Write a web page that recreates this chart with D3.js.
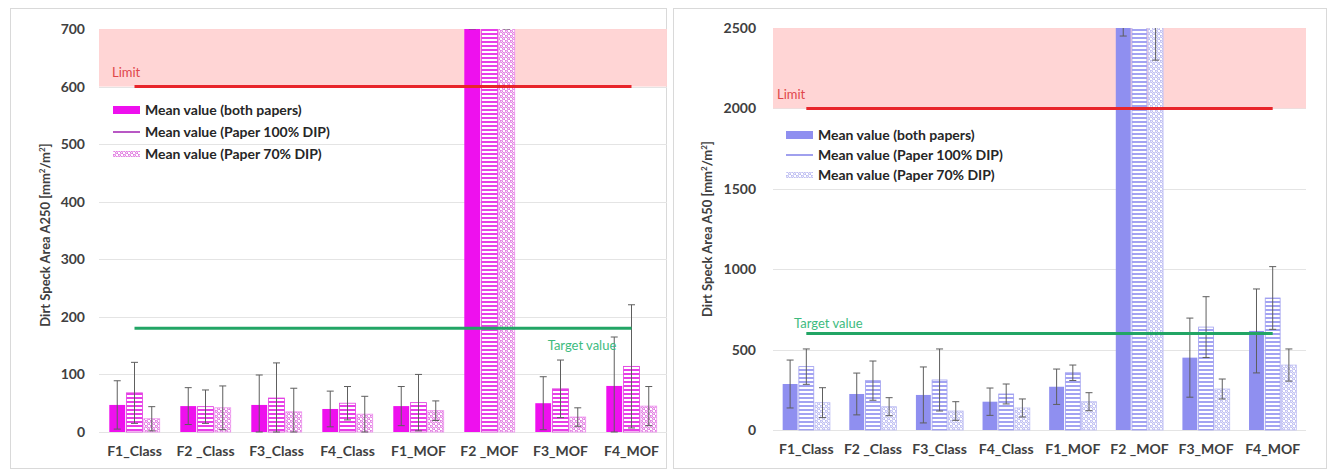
<!DOCTYPE html>
<html>
<head>
<meta charset="utf-8">
<script src="https://cdn.jsdelivr.net/npm/d3@7"></script>
<style>
  body { margin: 0; background: #fff; }
  text { font-family: Lato, "Open Sans", sans-serif; }
</style>
</head>
<body>
<div id="chart"></div>
<script>
(function() {
  'use strict'

  // Data //
  var categories = ["F1_Class", "F2 _Class", "F3_Class", "F4_Class", "F1_MOF", "F2 _MOF", "F3_MOF", "F4_MOF"]
  var seriesNames = ["Mean value (both papers)", "Mean value (Paper 100% DIP)", "Mean value (Paper 70% DIP)"]

  // A250 panel
  var a250Both = [47, 45, 47, 40, 45, 1000, 50, 80]
  var a250BothSd = [42, 32, 52, 31, 34, 300, 46, 85]
  var a250P100 = [68, 44, 59, 50, 51, 1050, 75, 114]
  var a250P100Sd = [53, 29, 61, 29, 49, 300, 50, 107]
  var a250P70 = [23, 42, 35, 31, 37, 1000, 26, 45]
  var a250P70Sd = [21, 38, 41, 31, 17, 300, 16, 34]
  var a250Ticks = [0, 100, 200, 300, 400, 500, 600, 700]
  var a250Limit = 600
  var a250Target = 180

  // A50 panel
  var a50Both = [286, 224, 218, 176, 269, 3300, 450, 616]
  var a50BothSd = [149, 130, 174, 85, 110, 850, 246, 261]
  var a50P100 = [394, 307, 311, 224, 356, 3600, 640, 821]
  var a50P100Sd = [110, 122, 193, 62, 48, 900, 189, 195]
  var a50P70 = [170, 145, 118, 137, 176, 2900, 255, 404]
  var a50P70Sd = [93, 56, 58, 56, 56, 600, 62, 100]
  var a50Ticks = [0, 500, 1000, 1500, 2000, 2500]
  var a50Limit = 2000
  var a50Target = 600

  // SVG Setup //
  var width = 1334, height = 473

  var svg = d3.select("#chart").append("svg")
    .attr("width", width)
    .attr("height", height)

  svg.append("rect").attr("width", width).attr("height", height).attr("fill", "#fff")

  var defs = svg.append("defs")

  // patterns for the two hatched series
  function makePatterns(id, color, dotColor) {
    var lines = defs.append("pattern")
      .attr("id", id + "-lines")
      .attr("patternUnits", "userSpaceOnUse")
      .attr("width", 4).attr("height", 4)
    lines.append("rect").attr("width", 4).attr("height", 4).attr("fill", "#fff")
    lines.append("rect").attr("y", 1).attr("width", 4).attr("height", 2).attr("fill", color)

    var dots = defs.append("pattern")
      .attr("id", id + "-dots")
      .attr("patternUnits", "userSpaceOnUse")
      .attr("width", 5).attr("height", 5)
    dots.append("rect").attr("width", 5).attr("height", 5).attr("fill", "#fff")
    dots.append("circle").attr("cx", 1.25).attr("cy", 1.25).attr("r", 1.2)
      .attr("fill", "none").attr("stroke", dotColor).attr("stroke-width", 0.9)
    dots.append("circle").attr("cx", 3.75).attr("cy", 3.75).attr("r", 1.2)
      .attr("fill", "none").attr("stroke", dotColor).attr("stroke-width", 0.9)
  }
  makePatterns("mag", "#e83ee8", "#d64ad6")
  makePatterns("blu", "#a3a3f2", "#a4a4ec")

  function drawPanel(cfg) {
    var g = svg.append("g")

    // frame
    g.append("rect")
      .attr("x", cfg.frame[0] + 0.5).attr("y", 8.5)
      .attr("width", cfg.frame[1] - cfg.frame[0]).attr("height", 460)
      .attr("fill", "#fff").attr("stroke", "#d9d9d9")

    var x = d3.scaleBand()
      .domain(categories)
      .range(cfg.xRange)
      .paddingInner(0.29)
      .paddingOuter(0.145)

    var xSub = d3.scaleBand()
      .domain([0, 1, 2])
      .range([0, x.bandwidth()])
      .paddingInner(0.08)

    var y = d3.scaleLinear()
      .domain([0, cfg.ticks[cfg.ticks.length - 1]])
      .range(cfg.yRange)

    var plotLeft = cfg.xRange[0], plotRight = cfg.xRange[1]

    var clipId = "clip-" + cfg.id
    defs.append("clipPath").attr("id", clipId)
      .append("rect")
      .attr("x", plotLeft).attr("y", y.range()[1])
      .attr("width", plotRight - plotLeft).attr("height", y.range()[0] - y.range()[1] + 1)

    // gridlines
    g.append("g").selectAll("line")
      .data(cfg.ticks)
      .join("line")
      .attr("x1", plotLeft).attr("x2", plotRight)
      .attr("y1", function(d) { return Math.round(y(d)) + 0.5 })
      .attr("y2", function(d) { return Math.round(y(d)) + 0.5 })
      .attr("stroke", "#e4e4e4")

    // limit zone
    g.append("rect")
      .attr("x", plotLeft).attr("y", y(y.domain()[1]))
      .attr("width", plotRight - plotLeft)
      .attr("height", y(cfg.limit) - y(y.domain()[1]))
      .attr("fill", "#ffd3d3").attr("opacity", 0.95)

    // y axis
    var yAxis = g.append("g")
      .attr("transform", "translate(" + plotLeft + ",0)")
      .call(d3.axisLeft(y).tickValues(cfg.ticks).tickFormat(d3.format("d")).tickSize(0).tickPadding(cfg.tickPad))
    yAxis.select(".domain").remove()
    yAxis.selectAll("text")
      .attr("font-family", "Lato, sans-serif")
      .attr("font-size", 14).attr("font-weight", 700).attr("fill", "#404040")

    // x axis
    var xAxis = g.append("g")
      .attr("transform", "translate(0," + y(0) + ")")
      .call(d3.axisBottom(x).tickSize(0).tickPadding(14))
    xAxis.select(".domain").remove()
    xAxis.selectAll("text")
      .attr("font-family", "Lato, sans-serif")
      .attr("font-size", 14).attr("font-weight", 700).attr("fill", "#404040")

    // axis title
    var title = g.append("text")
      .attr("transform", "translate(" + cfg.titleX + "," + cfg.titleY + ") rotate(-90)")
      .attr("text-anchor", "middle")
      .attr("font-size", 13).attr("font-weight", 700).attr("fill", "#404040")
    title.append("tspan").text(cfg.title + " [mm")
    title.append("tspan").attr("baseline-shift", "super").attr("font-size", 8).text("2")
    title.append("tspan").text("/m")
    title.append("tspan").attr("baseline-shift", "super").attr("font-size", 8).text("2")
    title.append("tspan").text("]")

    // bars
    var fills = [cfg.solid, "url(#" + cfg.pat + "-lines)", "url(#" + cfg.pat + "-dots)"]
    var strokes = [cfg.solid, cfg.lineStroke, cfg.dotStroke]
    var series = cfg.means
    var sds = cfg.sds

    var barsG = g.append("g").attr("clip-path", "url(#" + clipId + ")")
    series.forEach(function(vals, s) {
      barsG.append("g").selectAll("rect")
        .data(vals)
        .join("rect")
        .attr("x", function(d, i) { return x(categories[i]) + xSub(s) })
        .attr("y", function(d) { return y(d) })
        .attr("width", xSub.bandwidth())
        .attr("height", function(d) { return y(0) - y(d) })
        .attr("fill", fills[s])
        .attr("stroke", strokes[s])
        .attr("stroke-width", s === 0 ? 0 : 0.8)
    })

    // error bars
    series.forEach(function(vals, s) {
      var eg = barsG.append("g")
      vals.forEach(function(d, i) {
        var cx = x(categories[i]) + xSub(s) + xSub.bandwidth() / 2
        var lo = Math.max(0, d - sds[s][i]), hi = d + sds[s][i]
        eg.append("line")
          .attr("x1", cx).attr("x2", cx)
          .attr("y1", y(lo)).attr("y2", y(hi))
          .attr("stroke", "#5e5e5e").attr("stroke-width", 1)
        ;[lo, hi].forEach(function(v) {
          eg.append("line")
            .attr("x1", cx - 3.5).attr("x2", cx + 3.5)
            .attr("y1", y(v)).attr("y2", y(v))
            .attr("stroke", "#5e5e5e").attr("stroke-width", 1)
        })
      })
    })

    // limit and target lines (category centre to centre)
    var x0 = x(categories[0]) + x.bandwidth() / 2
    var x1 = x(categories[categories.length - 1]) + x.bandwidth() / 2
    g.append("line")
      .attr("x1", x0).attr("x2", x1)
      .attr("y1", y(cfg.limit)).attr("y2", y(cfg.limit))
      .attr("stroke", "#e8252b").attr("stroke-width", 3)
    g.append("line")
      .attr("x1", x0).attr("x2", x1)
      .attr("y1", y(cfg.target)).attr("y2", y(cfg.target))
      .attr("stroke", "#22a565").attr("stroke-width", 3)

    g.append("text")
      .attr("x", cfg.limitText[0]).attr("y", cfg.limitText[1])
      .attr("font-size", 13).attr("fill", "#e0464a")
      .text("Limit")
    g.append("text")
      .attr("x", cfg.targetText[0]).attr("y", cfg.targetText[1])
      .attr("text-anchor", cfg.targetAnchor)
      .attr("font-size", 13).attr("fill", "#3dbb7e")
      .text("Target value")

    // legend
    var lg = g.append("g").attr("transform", "translate(" + cfg.legend[0] + "," + cfg.legend[1] + ")")
    seriesNames.forEach(function(name, s) {
      var row = lg.append("g").attr("transform", "translate(0," + (s * cfg.legendStep) + ")")
      if (s === 0) {
        row.append("rect").attr("x", 0).attr("y", -4).attr("width", 27).attr("height", 8).attr("fill", cfg.solid)
      } else if (s === 1) {
        row.append("line").attr("x1", 0).attr("x2", 27).attr("y1", 0).attr("y2", 0)
          .attr("stroke", cfg.legendLine).attr("stroke-width", 1.5)
      } else {
        row.append("rect").attr("x", 0).attr("y", -3).attr("width", 27).attr("height", 6)
          .attr("fill", "url(#" + cfg.pat + "-dots)")
      }
      row.append("text")
        .attr("x", 32).attr("y", 0).attr("dy", "0.35em")
        .attr("font-size", 14).attr("font-weight", 700).attr("fill", "#262626")
        .text(name)
    })
  }

  drawPanel({
    id: "a250",
    frame: [10, 666],
    xRange: [99, 667],
    yRange: [432, 29],
    ticks: a250Ticks,
    tickPad: 14,
    limit: a250Limit,
    target: a250Target,
    means: [a250Both, a250P100, a250P70],
    sds: [a250BothSd, a250P100Sd, a250P70Sd],
    solid: "#ee10ee",
    pat: "mag",
    lineStroke: "#e040e0",
    dotStroke: "#ee90ee",
    legendLine: "#a020b0",
    title: "Dirt Speck Area A250",
    titleX: 50, titleY: 235,
    limitText: [112, 77],
    targetText: [582, 350],
    targetAnchor: "middle",
    legend: [113, 110],
    legendStep: 22
  })

  drawPanel({
    id: "a50",
    frame: [673, 1326],
    xRange: [773, 1306],
    yRange: [430, 28],
    ticks: a50Ticks,
    tickPad: 17,
    limit: a50Limit,
    target: a50Target,
    means: [a50Both, a50P100, a50P70],
    sds: [a50BothSd, a50P100Sd, a50P70Sd],
    solid: "#8f8ff0",
    pat: "blu",
    lineStroke: "#a0a0f0",
    dotStroke: "#c0c0f4",
    legendLine: "#8080e8",
    title: "Dirt Speck Area A50",
    titleX: 712, titleY: 229,
    limitText: [777, 99],
    targetText: [794, 328],
    targetAnchor: "start",
    legend: [786, 135],
    legendStep: 20
  })
})()
</script>
</body>
</html>
